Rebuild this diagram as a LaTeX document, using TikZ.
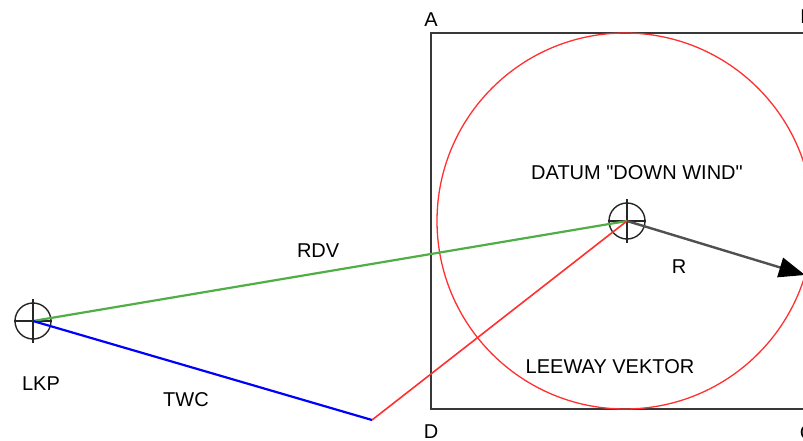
\documentclass[tikz,border=0pt]{standalone}
\usepackage{fontspec}
\newfontfamily\labelfont{Liberation Sans}
\usetikzlibrary{arrows.meta, positioning, calc}
\definecolor{rdvgreen}{HTML}{4FAF46}
\definecolor{twcblue}{HTML}{0000FF}
\definecolor{leewayred}{HTML}{FF3030}
\definecolor{boxgray}{HTML}{383838}
\definecolor{radiusgray}{HTML}{505050}

\begin{document}
\begin{tikzpicture}[x=1pt, y=-1pt,
      target/.style={draw=black!85, circle, minimum size=36pt, inner sep=0pt,
        line width=1.4pt},
      lbl/.style={font=\labelfont\fontsize{20}{24}\selectfont, inner sep=0pt},
      >=Latex
    ]
      \path[use as bounding box, fill=white] (0,0) rectangle (803,441);
      \coordinate (a) at (431,33);
      \coordinate (b) at (807,33);
      \coordinate (c) at (807,409);
      \coordinate (d) at (431,409);
      \draw[boxgray, line width=2pt] (a) -- (b) -- (c) -- (d) -- cycle;
      \node[lbl, above=6pt of a] {A};
      \node[lbl, above=9pt of b] {B};
      \node[lbl, below=16pt of c] {C};
      \node[lbl, below=16pt of d] {D};

      \node[target] (lkp) at (33,321) {};
      \node[target] (datum) at (627,221) {};
      \coordinate (twc) at (372,420);
      \coordinate (rend) at (805,275);
      \foreach \t in {lkp, datum}
        \draw[black!85, line width=1.4pt] ([yshift=3pt]\t.north) -- ([yshift=-3pt]\t.south)
          (\t.west) -- (\t.east);

      \draw[leewayred, line width=1.3pt] (625,221) circle[radius=188];
      \draw[rdvgreen, line width=2.2pt] (lkp.center) -- (datum.center)
        node[lbl, black, pos=0.48, above=14pt] {RDV};
      \draw[twcblue, line width=2.2pt] (lkp.center) -- (twc);
      \draw[leewayred, line width=1.6pt] (twc) -- (datum.center);
      \draw[-{Triangle[length=26pt, width=20pt, black]}, radiusgray, line width=2.4pt]
        (datum.center) -- (rend);

      \node[lbl, above=22pt of datum, xshift=10pt] {DATUM "DOWN WIND"};
      \node[lbl] at (679,267) {R};
      \node[lbl] at (610,367) {LEEWAY VEKTOR};
      \node[lbl, below=37pt of lkp, xshift=8pt] {LKP};
      \node[lbl] at (186,400) {TWC};
    \end{tikzpicture}
\end{document}
